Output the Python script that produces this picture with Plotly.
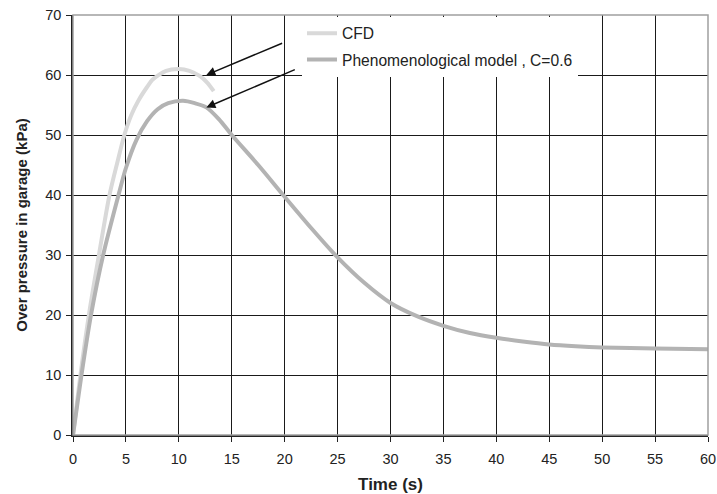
import plotly.graph_objects as go

# CFD curve
cfd_t = [0, 0.35, 0.7, 1.5, 2.45, 3.45, 4.2, 4.85, 5.5, 6.2, 7.0, 7.5, 8.8, 10.0, 11.0, 12.0, 12.7, 13.3]
cfd_p = [0, 5, 10, 20, 30, 40, 45.5, 50, 53.3, 55.8, 58.0, 59.2, 60.7, 61.0, 60.7, 59.8, 58.7, 57.3]

# Phenomenological model curve
mod_t = [0, 0.4, 0.8, 1.7, 2.85, 4.3, 5.0, 6.0, 7.0, 8.0, 9.0, 10.4, 11.5, 12.6, 13.8, 15,
         17.5, 20, 22.5, 25, 27.5, 30, 32.5, 35, 37.5, 40, 42.5, 45, 47.5, 50, 55, 60]
mod_p = [0, 5, 10, 20, 30, 40, 44.5, 49.2, 52.3, 54.3, 55.3, 55.7, 55.3, 54.6, 52.6, 50,
         45, 39.7, 34.5, 29.6, 25.4, 22.0, 19.8, 18.2, 17.0, 16.2, 15.6, 15.1, 14.8, 14.6, 14.4, 14.3]

x_ticks = list(range(0, 61, 5))
y_ticks = list(range(0, 71, 10))

names = ["CFD", "Phenomenological model , C=0.6"]

# arrows: (tail_t, tail_p, head_t, head_p)
arrows = [(19.9, 65.4, 12.6, 60.0), (21.1, 61.0, 12.6, 54.6)]

fig = go.Figure()
fig.add_trace(go.Scatter(x=cfd_t, y=cfd_p, mode="lines", name=names[0],
                         line=dict(color="#d9d9d9", width=4, shape="spline", smoothing=0.8),
                         legendgroup="a"))
fig.add_trace(go.Scatter(x=mod_t, y=mod_p, mode="lines", name=names[1],
                         line=dict(color="#b3b3b3", width=4, shape="spline", smoothing=0.8),
                         legendgroup="b"))

for tx, ty, hx, hy in arrows:
    fig.add_annotation(x=hx, y=hy, ax=tx, ay=ty, xref="x", yref="y", axref="x", ayref="y",
                       text="", showarrow=True, arrowhead=2, arrowsize=1.2, arrowwidth=1.5,
                       arrowcolor="#111111")

fig.add_shape(type="rect", xref="paper", yref="paper", x0=0, y0=0, x1=1, y1=1,
              line=dict(color="#a0a0a0", width=1.5), layer="above")

font_family = "Liberation Sans, Arial, sans-serif"
fig.update_layout(
    width=717, height=494,
    margin=dict(l=73, r=9, t=15, b=59, autoexpand=False),
    paper_bgcolor="white", plot_bgcolor="white",
    font=dict(family=font_family, size=14, color="#222222"),
    showlegend=True,
    legend=dict(x=0.3606, y=0.996, xanchor="left", yanchor="top", bgcolor="white",
                font=dict(size=15.6, color="#222222"), traceorder="grouped",
                tracegroupgap=3, borderwidth=0),
    xaxis=dict(range=[0, 60], tickvals=x_ticks, showgrid=True, gridcolor="#1a1a1a",
               gridwidth=1.3, showline=True, linecolor="#222222", linewidth=1.5,
               ticks="outside", ticklen=5, tickcolor="#222222", zeroline=False,
               automargin=False, ticklabelstandoff=5,
               title=dict(text="<b>Time (s)</b>", font=dict(size=17, color="#222222"), standoff=14),
               tickfont=dict(size=14.5, color="#222222")),
    yaxis=dict(range=[0, 70], tickvals=y_ticks, showgrid=True, gridcolor="#1a1a1a",
               gridwidth=1.3, showline=True, linecolor="#222222", linewidth=1.5,
               ticks="outside", ticklen=5, tickcolor="#222222", zeroline=False,
               automargin=False, ticklabelstandoff=2,
               title=dict(text="<b>Over pressure in garage (kPa)</b>",
                          font=dict(size=15, color="#222222"), standoff=14),
               tickfont=dict(size=14.5, color="#222222")),
)

fig.write_html("out.html", config={"displayModeBar": False},
               post_script="document.body.style.margin='0';document.body.style.padding='0';")
